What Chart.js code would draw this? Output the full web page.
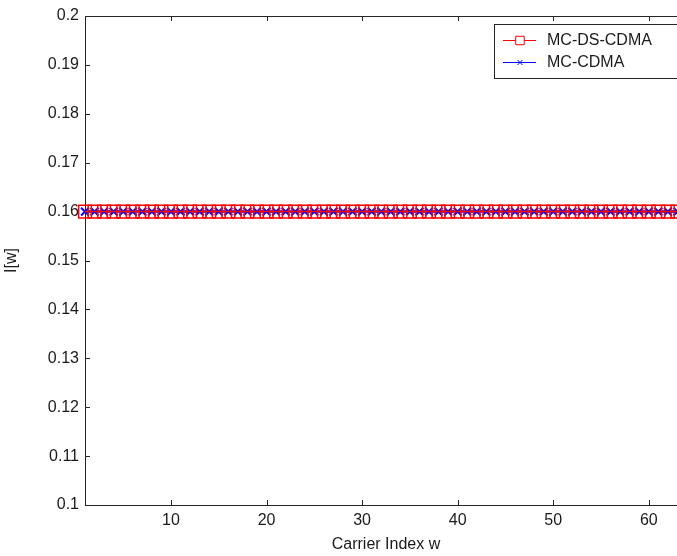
<!DOCTYPE html>
<html>
<head>
<meta charset="utf-8">
<script src="https://cdn.jsdelivr.net/npm/chart.js@4/dist/chart.umd.min.js"></script>
<style>
  html, body { margin: 0; padding: 0; background: #fff; overflow: hidden; }
  #wrap { width: 700px; height: 556px; }
</style>
</head>
<body>
<div id="wrap"><canvas id="chart" width="700" height="556"></canvas></div>
<script>
// carrier index w (x axis)
const carrierIdx = [1, 2, 3, 4, 5, 6, 7, 8, 9, 10, 11, 12, 13, 14, 15, 16,
  17, 18, 19, 20, 21, 22, 23, 24, 25, 26, 27, 28, 29, 30, 31, 32,
  33, 34, 35, 36, 37, 38, 39, 40, 41, 42, 43, 44, 45, 46, 47, 48,
  49, 50, 51, 52, 53, 54, 55, 56, 57, 58, 59, 60, 61, 62, 63, 64];

// I[w] for each scheme
const mcDsCdma = [0.16, 0.16, 0.16, 0.16, 0.16, 0.16, 0.16, 0.16, 0.16, 0.16, 0.16, 0.16, 0.16, 0.16, 0.16, 0.16,
  0.16, 0.16, 0.16, 0.16, 0.16, 0.16, 0.16, 0.16, 0.16, 0.16, 0.16, 0.16, 0.16, 0.16, 0.16, 0.16,
  0.16, 0.16, 0.16, 0.16, 0.16, 0.16, 0.16, 0.16, 0.16, 0.16, 0.16, 0.16, 0.16, 0.16, 0.16, 0.16,
  0.16, 0.16, 0.16, 0.16, 0.16, 0.16, 0.16, 0.16, 0.16, 0.16, 0.16, 0.16, 0.16, 0.16, 0.16, 0.16];
const mcCdma = [0.16, 0.16, 0.16, 0.16, 0.16, 0.16, 0.16, 0.16, 0.16, 0.16, 0.16, 0.16, 0.16, 0.16, 0.16, 0.16,
  0.16, 0.16, 0.16, 0.16, 0.16, 0.16, 0.16, 0.16, 0.16, 0.16, 0.16, 0.16, 0.16, 0.16, 0.16, 0.16,
  0.16, 0.16, 0.16, 0.16, 0.16, 0.16, 0.16, 0.16, 0.16, 0.16, 0.16, 0.16, 0.16, 0.16, 0.16, 0.16,
  0.16, 0.16, 0.16, 0.16, 0.16, 0.16, 0.16, 0.16, 0.16, 0.16, 0.16, 0.16, 0.16, 0.16, 0.16, 0.16];

const seriesNames = ['MC-DS-CDMA', 'MC-CDMA'];
const xTicks = [10, 20, 30, 40, 50, 60];
const yTicks = [0.1, 0.11, 0.12, 0.13, 0.14, 0.15, 0.16, 0.17, 0.18, 0.19, 0.2];

const FONT = '"Liberation Sans", Arial, sans-serif';
const AXIS = '#262626';

const toPoints = (ys) => ys.map((v, i) => ({ x: carrierIdx[i], y: v }));

// matlab style box with inward ticks on all four sides
const frameTicks = {
  id: 'frameTicks',
  beforeDatasetsDraw(chart) {
    const { ctx, chartArea: a, scales: { x, y } } = chart;
    const len = 5;
    ctx.save();
    ctx.strokeStyle = AXIS;
    ctx.lineWidth = 1;
    ctx.strokeRect(Math.round(a.left) + 0.5, Math.round(a.top) + 0.5,
      Math.round(a.right - a.left), Math.round(a.bottom - a.top));
    ctx.beginPath();
    xTicks.forEach(v => {
      const px = Math.round(x.getPixelForValue(v)) + 0.5;
      ctx.moveTo(px, a.bottom); ctx.lineTo(px, a.bottom - len);
      ctx.moveTo(px, a.top); ctx.lineTo(px, a.top + len);
    });
    yTicks.forEach(v => {
      const py = Math.round(y.getPixelForValue(v)) + 0.5;
      ctx.moveTo(a.left, py); ctx.lineTo(a.left + len, py);
      ctx.moveTo(a.right, py); ctx.lineTo(a.right - len, py);
    });
    ctx.stroke();
    ctx.restore();
  }
};

// legend box in the top right corner, line + marker sample
const boxLegend = {
  id: 'boxLegend',
  afterDraw(chart) {
    const { ctx, chartArea: a } = chart;
    const bx = 494, by = 24, bw = a.right - 6 - 494, bh = 54;
    ctx.save();
    ctx.fillStyle = '#fff';
    ctx.fillRect(bx, by, bw, bh);
    ctx.strokeStyle = AXIS;
    ctx.lineWidth = 1;
    ctx.strokeRect(bx + 0.5, by + 0.5, bw, bh);
    ctx.font = '16px ' + FONT;
    ctx.textBaseline = 'middle';
    chart.data.datasets.forEach((ds, i) => {
      const cy = by + 16 + i * 22;
      ctx.strokeStyle = ds.borderColor;
      ctx.lineWidth = 1;
      ctx.beginPath();
      ctx.moveTo(503, cy + 0.5); ctx.lineTo(536, cy + 0.5);
      ctx.stroke();
      Chart.helpers.drawPoint(ctx, {
        pointStyle: ds.pointStyle,
        radius: i === 0 ? 6 : 3.5,
        borderWidth: 1,
        rotation: 0
      }, 520, cy + 0.5);
      ctx.fillStyle = '#1a1a1a';
      ctx.fillText(ds.label, 547, cy + 1);
    });
    ctx.restore();
  }
};

new Chart(document.getElementById('chart'), {
  type: 'line',
  data: {
    datasets: [
      {
        label: seriesNames[0],
        data: toPoints(mcDsCdma),
        borderColor: '#ff0000',
        backgroundColor: 'rgba(0,0,0,0)',
        borderWidth: 1.5,
        pointStyle: 'rect',
        pointRadius: 9,
        pointBorderWidth: 1.5,
        pointBorderColor: '#ff0000',
        pointBackgroundColor: 'rgba(0,0,0,0)',
        clip: false
      },
      {
        label: seriesNames[1],
        data: toPoints(mcCdma),
        borderColor: '#0000ff',
        backgroundColor: 'rgba(0,0,0,0)',
        borderWidth: 2.5,
        pointStyle: 'crossRot',
        pointRadius: 5.5,
        pointBorderWidth: 2,
        pointBorderColor: '#0000ff',
        clip: false
      }
    ]
  },
  options: {
    responsive: false,
    animation: false,
    layout: { padding: { top: 16, right: 13, left: 0, bottom: 0 } },
    plugins: {
      legend: { display: false },
      tooltip: { enabled: false }
    },
    elements: { line: { tension: 0 } },
    scales: {
      x: {
        type: 'linear',
        min: 1,
        max: 64,
        grid: { display: false, drawTicks: false },
        border: { display: false },
        afterBuildTicks: (s) => { s.ticks = xTicks.map(v => ({ value: v })); },
        afterFit: (s) => { s.height = 51; },
        ticks: { color: '#1a1a1a', font: { family: FONT, size: 16 }, padding: 6, maxRotation: 0 },
        title: {
          display: true, text: 'Carrier Index w', color: '#1a1a1a',
          font: { family: FONT, size: 16 }, padding: { top: 0, bottom: 2 }
        }
      },
      y: {
        type: 'linear',
        min: 0.1,
        max: 0.2,
        grid: { display: false, drawTicks: false },
        border: { display: false },
        afterBuildTicks: (s) => { s.ticks = yTicks.map(v => ({ value: v })); },
        afterFit: (s) => { s.width = 85; },
        ticks: {
          color: '#1a1a1a', font: { family: FONT, size: 16 }, padding: 6,
          callback: (v) => String(+v.toFixed(2))
        },
        title: {
          display: true, text: 'I[w]', color: '#1a1a1a',
          font: { family: FONT, size: 16 }, padding: { top: 2, bottom: 0 }
        }
      }
    }
  },
  plugins: [frameTicks, boxLegend]
});
</script>
</body>
</html>
